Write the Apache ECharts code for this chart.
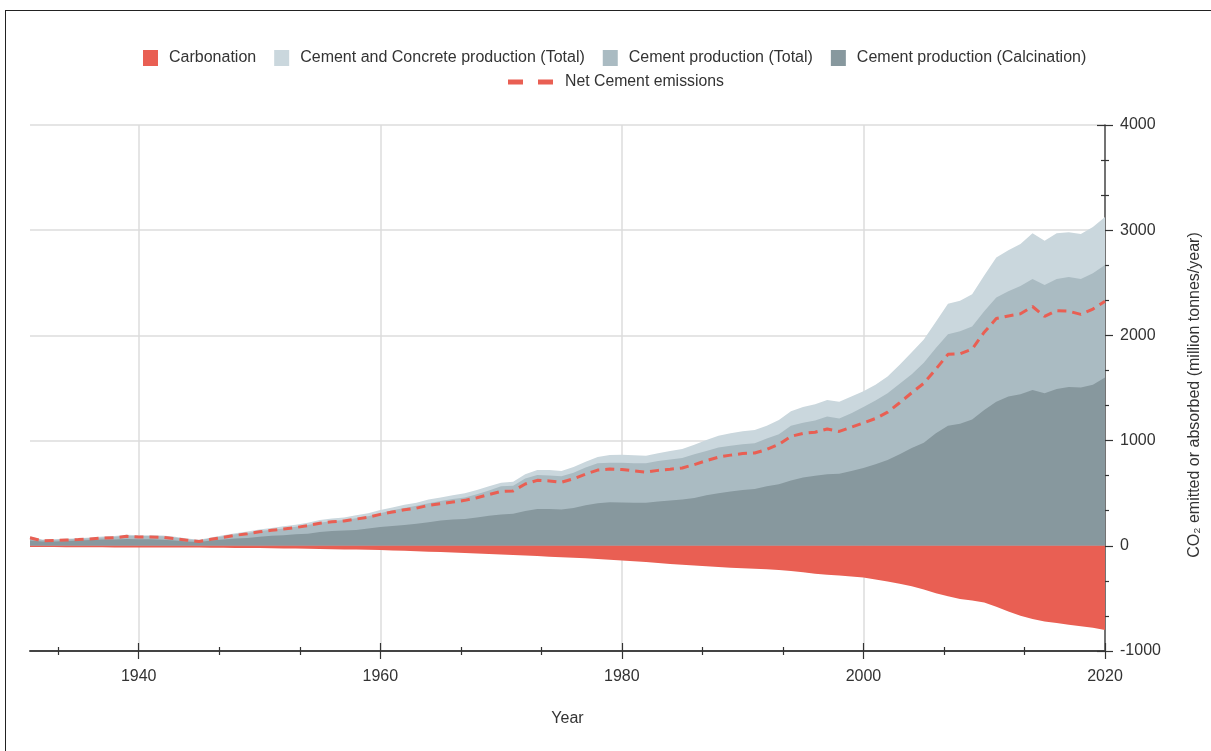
<!DOCTYPE html>
<html>
<head>
<meta charset="utf-8">
<title>Cement CO2 emissions and carbonation uptake</title>
<script src="https://cdn.jsdelivr.net/npm/echarts@6/dist/echarts.min.js"></script>
<style>
  html, body { margin: 0; padding: 0; background: #fff; overflow: hidden; }
  #frame { position: absolute; left: 5px; top: 10px; width: 1400px; height: 900px;
           border-left: 1px solid #222; border-top: 1px solid #222; }
  #chart { position: absolute; left: 0; top: 0; width: 1211px; height: 751px; }
</style>
</head>
<body>
<div id="frame"></div>
<div id="chart"></div>
<script>
// Years covered by the series (one value per year)
const startYear = 1931;
const endYear = 2020;

// Tick positions on the year axis
const majorYearTicks = [1940, 1960, 1980, 2000, 2020];
const minorYearTicks = [1933.333, 1946.667, 1953.333, 1966.667, 1973.333, 1986.667, 1993.333, 2006.667, 2013.333];

// Million tonnes CO2 per year, 1931–2020
const concreteTotal = [
  88, 60, 62, 68, 72, 78, 88, 92, 105, 100,
  100, 98, 85, 70, 58, 80, 100, 120, 135, 155,
  170, 185, 200, 220, 245, 260, 270, 290, 310, 340,
  365, 390, 410, 440, 460, 480, 500, 530, 565, 600,
  610, 680, 720, 720, 712, 750, 800, 845, 862, 865,
  860, 855, 880, 900, 920, 960, 1005, 1045, 1070, 1090,
  1100, 1140, 1195, 1280, 1320, 1345, 1385, 1370, 1420, 1470,
  1530, 1610, 1720, 1840, 1960, 2130, 2300, 2330, 2390, 2570,
  2740, 2810, 2870, 2970, 2900, 2970, 2980, 2965, 3030, 3125
];

const cementTotal = [
  80, 55, 57, 62, 66, 72, 80, 85, 95, 92,
  92, 90, 78, 62, 52, 72, 90, 110, 122, 140,
  152, 165, 180, 198, 220, 235, 245, 262, 280, 310,
  338, 360, 380, 405, 425, 445, 460, 490, 525, 565,
  572, 640, 672, 668, 660, 695, 745, 785, 790, 790,
  785, 785, 805, 820, 835, 870, 900, 935, 950, 965,
  975, 1020, 1060, 1140, 1170, 1190, 1230, 1210, 1260, 1320,
  1380, 1450, 1540, 1630, 1740, 1880, 2010, 2040, 2085, 2230,
  2360, 2420, 2470, 2535, 2480, 2535, 2555, 2535, 2590, 2670
];

const calcination = [
  50, 42, 42, 45, 50, 55, 60, 60, 65, 62,
  62, 58, 50, 40, 35, 50, 60, 70, 75, 85,
  95, 100, 110, 115, 130, 140, 145, 150, 165, 178,
  188, 198, 210, 225, 240, 250, 255, 270, 285, 297,
  305, 330, 350, 350, 345, 360, 385, 405, 415, 412,
  410, 410, 420, 430, 440, 455, 480, 500, 515, 530,
  540, 565, 585, 620, 650, 665, 680, 685, 710, 740,
  775, 815, 870, 930, 980, 1070, 1140, 1160, 1200, 1290,
  1370, 1420, 1440, 1480, 1450, 1490, 1510, 1505, 1530, 1600
];

const carbonation = [
  -12, -12, -12, -13, -13, -14, -14, -15, -15, -16,
  -16, -17, -17, -17, -17, -18, -19, -20, -21, -22,
  -23, -25, -26, -28, -30, -32, -34, -36, -38, -41,
  -44, -48, -52, -56, -60, -64, -68, -73, -78, -83,
  -88, -93, -98, -103, -108, -113, -119, -125, -132, -140,
  -148, -155, -163, -172, -180, -188, -195, -202, -208, -213,
  -218, -224, -230, -240, -252, -265, -275, -283, -292, -302,
  -320, -340, -360, -385, -415, -450, -480, -505, -520, -540,
  -580, -625, -665, -695, -720, -735, -750, -765, -780, -800
];

const netEmissions = [
  76, 48, 50, 55, 59, 64, 74, 77, 90, 84,
  84, 81, 68, 53, 41, 62, 81, 100, 114, 133,
  147, 160, 174, 192, 215, 228, 236, 254, 272, 299,
  321, 342, 358, 384, 400, 416, 432, 457, 487, 517,
  522, 587, 622, 617, 604, 637, 681, 720, 730, 725,
  712, 700, 717, 728, 740, 772, 810, 843, 862, 877,
  882, 916, 965, 1040, 1068, 1080, 1110, 1087, 1128, 1168,
  1210, 1270, 1360, 1455, 1545, 1680, 1820, 1825, 1870, 2030,
  2160, 2185, 2205, 2275, 2180, 2235, 2230, 2200, 2250, 2325
];

const years = [];
for (let y = startYear; y <= endYear; y++) years.push(y);
const pair = vals => years.map((y, i) => [y, vals[i]]);

const FONT = "'Liberation Sans', Arial, Helvetica, sans-serif";
const FS = 16;
const RED = '#e95f53';
const LIGHT = '#cad7dd';
const MID = '#aabbc2';
const DARK = '#87989e';
const AXIS = '#333';
const GRIDC = '#dcdcdc';
const plain = v => String(Math.round(v));

const chart = echarts.init(document.getElementById('chart'), null, { renderer: 'canvas' });

// Extra x axes that only carry tick marks (ticks cross the axis line)
function tickOnlyX(values, inside, len) {
  return {
    type: 'value', min: startYear, max: endYear, position: 'bottom',
    axisLine: { show: false, onZero: false },
    axisLabel: { show: false },
    splitLine: { show: false },
    axisTick: { show: true, inside: inside, length: len, customValues: values,
                lineStyle: { color: AXIS, width: 1.2 } }
  };
}

const option = {
  animation: false,
  backgroundColor: 'transparent',
  textStyle: { fontFamily: FONT },
  legend: [
    {
      data: ['Carbonation', 'Cement and Concrete production (Total)', 'Cement production (Total)', 'Cement production (Calcination)'],
      left: 138, top: 45,
      icon: 'rect', itemWidth: 15, itemHeight: 16, itemGap: 18,
      textStyle: { fontFamily: FONT, fontSize: FS, color: '#333', padding: [0, 0, 0, 6] },
      selectedMode: false
    },
    {
      data: ['Net Cement emissions'],
      left: 503, top: 69,
      icon: 'path://M0,0h15v5h-15z M30,0h15v5h-15z',
      itemWidth: 45, itemHeight: 5,
      textStyle: { fontFamily: FONT, fontSize: 15.8, color: '#333', padding: [0, 0, 0, 7] },
      selectedMode: false
    }
  ],
  grid: { left: 30, right: 106, top: 125, bottom: 100, containLabel: false },
  xAxis: [
    {
      type: 'value', min: startYear, max: endYear, position: 'bottom',
      name: 'Year', nameLocation: 'middle', nameGap: 60,
      nameTextStyle: { fontFamily: FONT, fontSize: FS, color: '#333' },
      axisLine: { show: true, onZero: false, lineStyle: { color: '#444', width: 2 } },
      axisTick: { show: true, inside: false, length: 8, customValues: majorYearTicks,
                  lineStyle: { color: AXIS, width: 1.2 } },
      axisLabel: { show: true, customValues: majorYearTicks, margin: 18, formatter: plain,
                   fontFamily: FONT, fontSize: FS, color: '#333' },
      splitLine: { show: false }
    },
    tickOnlyX(majorYearTicks, true, 8),
    tickOnlyX(minorYearTicks, false, 4),
    tickOnlyX(minorYearTicks, true, 4)
  ],
  yAxis: [
    {
      type: 'value', min: -1000, max: 4000, interval: 1000, position: 'right',
      name: 'CO\u2082 emitted or absorbed (million tonnes/year)',
      nameLocation: 'middle', nameGap: 82, nameRotate: 90,
      nameTextStyle: { fontFamily: FONT, fontSize: FS, color: '#333', padding: [0, 14, 0, 0] },
      axisLine: { show: true, onZero: false, lineStyle: { color: '#444', width: 1.5 } },
      axisTick: { show: true, inside: false, length: 8, lineStyle: { color: AXIS, width: 1.2 } },
      minorTick: { show: true, splitNumber: 3, length: 4, lineStyle: { color: AXIS, width: 1.2 } },
      axisLabel: { margin: 15, formatter: plain, fontFamily: FONT, fontSize: FS, color: '#333' },
      splitLine: { show: true, lineStyle: { color: GRIDC, width: 1.5 } }
    },
    {
      type: 'value', min: -1000, max: 4000, interval: 1000, position: 'right',
      axisLine: { show: false, onZero: false },
      axisTick: { show: true, inside: true, length: 8, lineStyle: { color: AXIS, width: 1.2 } },
      minorTick: { show: true, splitNumber: 3, length: 4, lineStyle: { color: AXIS, width: 1.2 } },
      axisLabel: { show: false },
      splitLine: { show: false }
    }
  ],
  series: [
    {
      // vertical guide lines at the labelled years, kept behind the areas
      name: 'year-guides', type: 'line', data: [], z: 0, silent: true,
      markLine: {
        silent: true, symbol: 'none', label: { show: false }, animation: false, z: 0,
        lineStyle: { color: GRIDC, width: 1.5, type: 'solid' },
        data: majorYearTicks.slice(0, -1).map(v => ({ xAxis: v }))
      }
    },
    {
      name: 'Cement and Concrete production (Total)', type: 'line', z: 2,
      data: pair(concreteTotal), symbol: 'none',
      lineStyle: { width: 0 }, itemStyle: { color: LIGHT },
      areaStyle: { color: LIGHT, opacity: 1 }
    },
    {
      name: 'Cement production (Total)', type: 'line', z: 3,
      data: pair(cementTotal), symbol: 'none',
      lineStyle: { width: 0 }, itemStyle: { color: MID },
      areaStyle: { color: MID, opacity: 1 }
    },
    {
      name: 'Cement production (Calcination)', type: 'line', z: 4,
      data: pair(calcination), symbol: 'none',
      lineStyle: { width: 0 }, itemStyle: { color: DARK },
      areaStyle: { color: DARK, opacity: 1 }
    },
    {
      name: 'Carbonation', type: 'line', z: 5,
      data: pair(carbonation), symbol: 'none',
      lineStyle: { width: 0 }, itemStyle: { color: RED },
      areaStyle: { color: RED, opacity: 1 }
    },
    {
      name: 'Net Cement emissions', type: 'line', z: 6,
      data: pair(netEmissions), symbol: 'none',
      itemStyle: { color: RED },
      lineStyle: { color: RED, width: 3, type: [9, 6] }
    }
  ]
};

chart.setOption(option);
</script>
</body>
</html>
